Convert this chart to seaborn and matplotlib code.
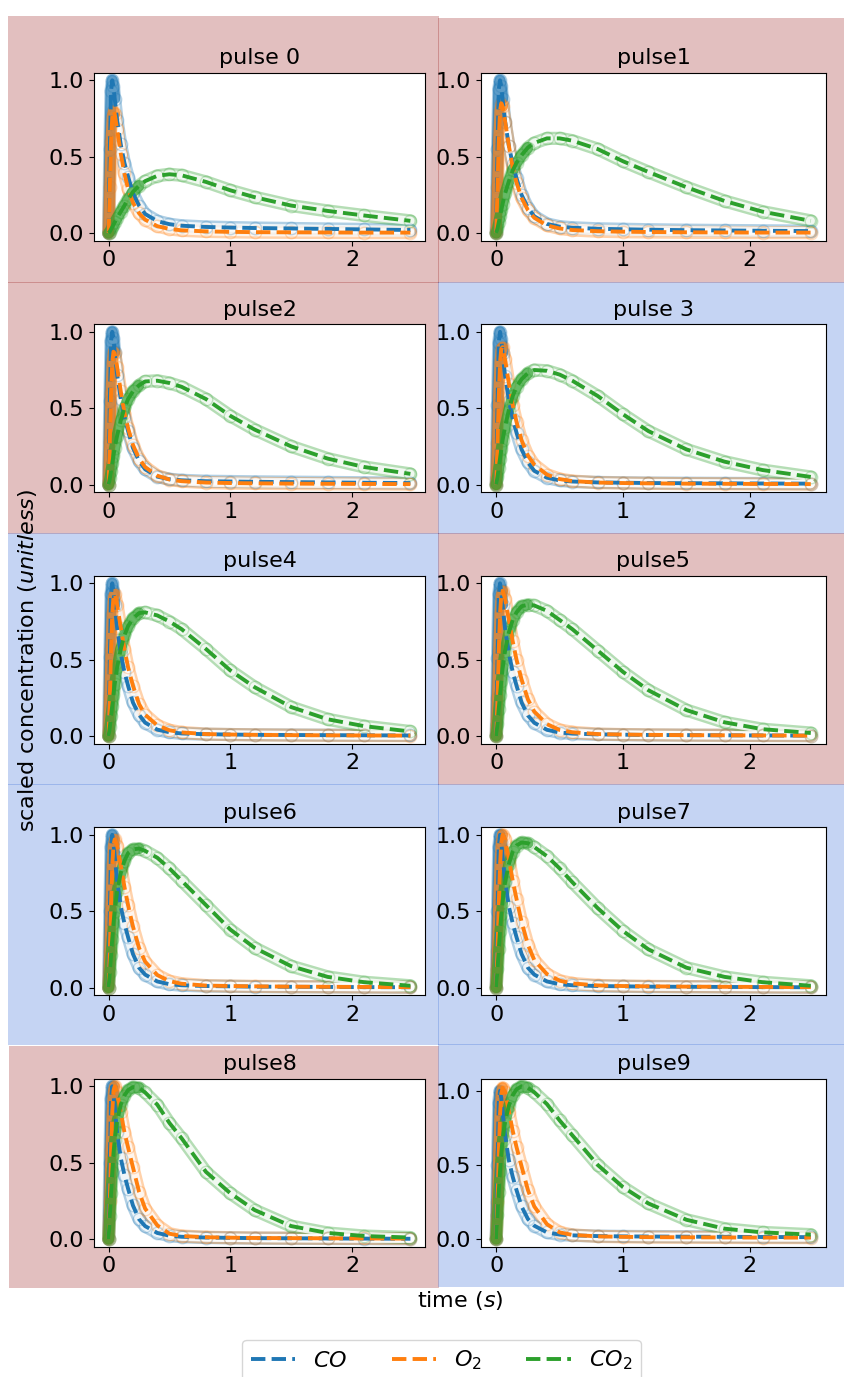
import matplotlib
matplotlib.use("Agg")
import matplotlib.pyplot as plt
from matplotlib.patches import Rectangle
from matplotlib.ticker import FormatStrFormatter
import seaborn as sns

# ---------------- data ----------------
time_s = [0.0, 0.01, 0.02, 0.03, 0.04, 0.05, 0.07, 0.1, 0.13, 0.16, 0.2, 0.25,
          0.3, 0.4, 0.5, 0.6, 0.8, 1.0, 1.2, 1.5, 1.8, 2.1, 2.48]

titles = ["pulse 0", "pulse1", "pulse2", "pulse 3", "pulse4",
          "pulse5", "pulse6", "pulse7", "pulse8", "pulse9"]
panel_bg = ["pink", "pink", "pink", "blue", "blue",
            "pink", "blue", "blue", "pink", "blue"]

co_p0 = [0.0, 0.55, 0.93, 1.00, 0.96, 0.88, 0.74, 0.58, 0.46, 0.37, 0.26, 0.18, 0.125, 0.078, 0.058, 0.048, 0.04, 0.036, 0.033, 0.03, 0.027, 0.024, 0.02]
co_p1 = [0.0, 0.55, 0.94, 1.00, 0.96, 0.88, 0.73, 0.57, 0.45, 0.36, 0.25, 0.165, 0.11, 0.06, 0.042, 0.035, 0.028, 0.025, 0.022, 0.019, 0.017, 0.015, 0.013]
co_p2 = [0.0, 0.55, 0.94, 1.00, 0.96, 0.87, 0.72, 0.56, 0.44, 0.35, 0.24, 0.155, 0.1, 0.052, 0.035, 0.028, 0.022, 0.02, 0.018, 0.016, 0.014, 0.012, 0.01]
co_p3 = [0.0, 0.52, 0.93, 1.00, 0.95, 0.86, 0.71, 0.55, 0.43, 0.34, 0.23, 0.145, 0.09, 0.045, 0.027, 0.02, 0.014, 0.012, 0.01, 0.009, 0.008, 0.007, 0.006]
co_p4 = [0.0, 0.52, 0.93, 1.00, 0.95, 0.86, 0.71, 0.54, 0.42, 0.33, 0.22, 0.14, 0.088, 0.042, 0.025, 0.017, 0.012, 0.01, 0.008, 0.007, 0.006, 0.005, 0.004]
co_p5 = [0.0, 0.51, 0.93, 1.00, 0.95, 0.86, 0.7, 0.54, 0.42, 0.33, 0.22, 0.135, 0.087, 0.041, 0.023, 0.016, 0.011, 0.009, 0.007, 0.006, 0.005, 0.004, 0.003]
co_p6 = [0.0, 0.5, 0.92, 1.00, 0.95, 0.86, 0.7, 0.53, 0.42, 0.33, 0.22, 0.13, 0.085, 0.04, 0.022, 0.015, 0.01, 0.008, 0.006, 0.005, 0.004, 0.003, 0.002]
co_p7 = [0.0, 0.5, 0.92, 1.00, 0.95, 0.86, 0.7, 0.53, 0.42, 0.33, 0.22, 0.13, 0.085, 0.04, 0.022, 0.015, 0.01, 0.008, 0.006, 0.005, 0.004, 0.003, 0.002]
co_p8 = [0.0, 0.5, 0.92, 1.00, 0.95, 0.86, 0.7, 0.53, 0.42, 0.33, 0.22, 0.13, 0.085, 0.04, 0.022, 0.015, 0.01, 0.008, 0.006, 0.005, 0.004, 0.003, 0.002]
co_p9 = [0.0, 0.5, 0.92, 1.00, 0.95, 0.86, 0.7, 0.53, 0.42, 0.33, 0.22, 0.135, 0.09, 0.045, 0.03, 0.025, 0.02, 0.018, 0.017, 0.016, 0.015, 0.014, 0.013]

o2_p0 = [0.0, 0.3, 0.6, 0.76, 0.80, 0.78, 0.68, 0.52, 0.39, 0.29, 0.2, 0.13, 0.088, 0.045, 0.027, 0.018, 0.011, 0.008, 0.006, 0.005, 0.004, 0.003, 0.003]
o2_p1 = [0.0, 0.3, 0.62, 0.8, 0.85, 0.83, 0.73, 0.57, 0.43, 0.33, 0.23, 0.15, 0.1, 0.05, 0.03, 0.02, 0.012, 0.009, 0.007, 0.005, 0.004, 0.003, 0.003]
o2_p2 = [0.0, 0.28, 0.6, 0.8, 0.87, 0.86, 0.77, 0.61, 0.47, 0.37, 0.26, 0.17, 0.115, 0.058, 0.033, 0.022, 0.013, 0.01, 0.008, 0.006, 0.005, 0.004, 0.003]
o2_p3 = [0.0, 0.27, 0.58, 0.8, 0.89, 0.9, 0.82, 0.66, 0.52, 0.41, 0.29, 0.19, 0.13, 0.065, 0.036, 0.023, 0.013, 0.01, 0.008, 0.006, 0.005, 0.004, 0.003]
o2_p4 = [0.0, 0.26, 0.57, 0.8, 0.91, 0.93, 0.86, 0.71, 0.57, 0.45, 0.33, 0.21, 0.14, 0.07, 0.038, 0.024, 0.013, 0.01, 0.008, 0.006, 0.005, 0.004, 0.003]
o2_p5 = [0.0, 0.25, 0.56, 0.8, 0.92, 0.95, 0.9, 0.76, 0.62, 0.5, 0.37, 0.24, 0.16, 0.078, 0.04, 0.025, 0.013, 0.01, 0.008, 0.006, 0.005, 0.004, 0.003]
o2_p6 = [0.0, 0.24, 0.55, 0.8, 0.93, 0.97, 0.93, 0.8, 0.66, 0.54, 0.4, 0.26, 0.17, 0.082, 0.042, 0.025, 0.013, 0.01, 0.008, 0.006, 0.005, 0.004, 0.003]
o2_p7 = [0.0, 0.24, 0.55, 0.8, 0.95, 1.0, 0.97, 0.84, 0.7, 0.58, 0.43, 0.28, 0.18, 0.088, 0.045, 0.027, 0.014, 0.01, 0.008, 0.006, 0.005, 0.004, 0.003]
o2_p8 = [0.0, 0.25, 0.58, 0.83, 0.97, 1.0, 0.96, 0.83, 0.7, 0.6, 0.47, 0.31, 0.2, 0.09, 0.035, 0.02, 0.012, 0.009, 0.007, 0.006, 0.005, 0.004, 0.003]
o2_p9 = [0.0, 0.25, 0.58, 0.84, 0.98, 1.02, 0.99, 0.86, 0.73, 0.62, 0.49, 0.33, 0.22, 0.1, 0.045, 0.028, 0.018, 0.015, 0.013, 0.012, 0.011, 0.01, 0.01]

co2_p0 = [0.0, 0.01, 0.025, 0.04, 0.055, 0.07, 0.1, 0.14, 0.18, 0.22, 0.27, 0.31, 0.34, 0.375, 0.385, 0.378, 0.335, 0.28, 0.235, 0.18, 0.145, 0.115, 0.08]
co2_p1 = [0.0, 0.03, 0.07, 0.11, 0.15, 0.19, 0.26, 0.34, 0.41, 0.46, 0.51, 0.56, 0.59, 0.62, 0.62, 0.605, 0.55, 0.47, 0.4, 0.3, 0.21, 0.14, 0.08]
co2_p2 = [0.0, 0.04, 0.09, 0.14, 0.19, 0.24, 0.32, 0.42, 0.5, 0.56, 0.61, 0.65, 0.675, 0.68, 0.665, 0.64, 0.56, 0.45, 0.36, 0.25, 0.17, 0.115, 0.07]
co2_p3 = [0.0, 0.05, 0.11, 0.17, 0.23, 0.29, 0.38, 0.49, 0.58, 0.64, 0.69, 0.73, 0.75, 0.745, 0.72, 0.68, 0.58, 0.46, 0.35, 0.23, 0.15, 0.095, 0.05]
co2_p4 = [0.0, 0.06, 0.13, 0.2, 0.27, 0.34, 0.45, 0.57, 0.66, 0.72, 0.77, 0.805, 0.81, 0.79, 0.75, 0.7, 0.57, 0.43, 0.32, 0.19, 0.11, 0.065, 0.03]
co2_p5 = [0.0, 0.08, 0.18, 0.27, 0.36, 0.44, 0.56, 0.68, 0.76, 0.81, 0.85, 0.86, 0.855, 0.82, 0.76, 0.7, 0.56, 0.42, 0.3, 0.17, 0.09, 0.045, 0.02]
co2_p6 = [0.0, 0.1, 0.21, 0.32, 0.42, 0.5, 0.63, 0.75, 0.83, 0.88, 0.905, 0.91, 0.895, 0.85, 0.78, 0.7, 0.54, 0.38, 0.26, 0.14, 0.07, 0.035, 0.012]
co2_p7 = [0.0, 0.12, 0.25, 0.37, 0.48, 0.56, 0.69, 0.81, 0.89, 0.93, 0.95, 0.945, 0.92, 0.86, 0.78, 0.69, 0.52, 0.37, 0.25, 0.13, 0.07, 0.035, 0.012]
co2_p8 = [0.0, 0.15, 0.3, 0.44, 0.56, 0.65, 0.77, 0.88, 0.94, 0.975, 0.995, 0.99, 0.96, 0.88, 0.76, 0.66, 0.44, 0.3, 0.19, 0.085, 0.04, 0.02, 0.01]
co2_p9 = [0.0, 0.16, 0.32, 0.46, 0.58, 0.67, 0.79, 0.9, 0.97, 1.01, 1.03, 1.02, 0.99, 0.91, 0.8, 0.7, 0.5, 0.35, 0.24, 0.13, 0.07, 0.045, 0.03]

co_all = [co_p0, co_p1, co_p2, co_p3, co_p4, co_p5, co_p6, co_p7, co_p8, co_p9]
o2_all = [o2_p0, o2_p1, o2_p2, o2_p3, o2_p4, o2_p5, o2_p6, o2_p7, o2_p8, o2_p9]
co2_all = [co2_p0, co2_p1, co2_p2, co2_p3, co2_p4, co2_p5, co2_p6, co2_p7, co2_p8, co2_p9]

species_labels = ["$CO$", "$O_2$", "$CO_2$"]
species_colors = ["#1f77b4", "#ff7f0e", "#2ca02c"]

# ---------------- layout ----------------
W, H = 844, 1377
plt.rcParams.update({"font.size": 16, "axes.titlesize": 16,
                     "xtick.labelsize": 16, "ytick.labelsize": 16})
fig = plt.figure(figsize=(W / 100, H / 100), dpi=100)

bg_colors = {"pink": (0.55, 0.0, 0.0, 0.25), "blue": (0.25, 0.45, 0.85, 0.30)}
# background boxes in pixels (x0, ytop, x1, ybottom)
bg_boxes = [(8, 16, 439, 283), (438, 18, 844, 283),
            (8, 282, 439, 534), (438, 282, 844, 534),
            (8, 533, 439, 785), (438, 533, 844, 785),
            (8, 784, 439, 1045), (438, 784, 844, 1045),
            (9, 1046, 439, 1288), (438, 1044, 844, 1287)]

col_x = [(94, 425), (481, 826)]
row_top = [72.7, 324.2, 575.7, 827.2, 1078.7]
ax_h = 168

for i in range(10):
    x0, yt, x1, yb = bg_boxes[i]
    fig.add_artist(Rectangle((x0 / W, 1 - yb / H), (x1 - x0) / W, (yb - yt) / H,
                             transform=fig.transFigure, facecolor=bg_colors[panel_bg[i]],
                             edgecolor="none", zorder=-5))

legend_handles = []
for i in range(10):
    r, c = divmod(i, 2)
    l, rgt = col_x[c]
    top = row_top[r]
    ax = fig.add_axes([l / W, 1 - (top + ax_h) / H, (rgt - l) / W, ax_h / H])
    series = [co_all[i], o2_all[i], co2_all[i]]
    n_solid = [6, 6, 12]
    # outer tube (open circle look)
    for vals, col in zip(series, species_colors):
        sns.lineplot(x=time_s, y=vals, ax=ax, color=col, lw=9.5, alpha=0.35,
                     solid_capstyle="round", errorbar=None, sort=False, zorder=1)
    for vals, col in zip(series, species_colors):
        sns.lineplot(x=time_s, y=vals, ax=ax, color="white", lw=6, alpha=0.8,
                     solid_capstyle="round", errorbar=None, sort=False, zorder=1.5)
    for vals, col in zip(series, species_colors):
        sns.lineplot(x=time_s, y=vals, ax=ax, color=col, lw=0, marker="o",
                     markersize=9, markerfacecolor="none", markeredgecolor=col,
                     markeredgewidth=1.0, alpha=0.25, errorbar=None, sort=False, zorder=2)
    for vals, col, ns in zip(series, species_colors, n_solid):
        sns.lineplot(x=time_s[:ns], y=vals[:ns], ax=ax, color=col, lw=8, alpha=0.7,
                     solid_capstyle="round", errorbar=None, sort=False, zorder=3)
    for vals, col, lab in zip(series, species_colors, species_labels):
        sns.lineplot(x=time_s, y=vals, ax=ax, color=col, lw=2.8, linestyle="--",
                     errorbar=None, sort=False, zorder=4)
        if i == 0:
            h = ax.lines[-1]
            h.set_label(lab)
            legend_handles.append(h)
    if ax.get_legend() is not None:
        ax.get_legend().remove()
    ax.set_xlim(-0.12, 2.60)
    ax.set_xticks([0, 1, 2])
    ax.set_yticks([0.0, 0.5, 1.0])
    ax.yaxis.set_major_formatter(FormatStrFormatter("%.1f"))
    ax.set_xlabel("")
    ax.set_ylabel("")
    ax.set_title(titles[i], fontsize=16)
    ax.set_facecolor("white")
    for s in ax.spines.values():
        s.set_color("black")

fig.text(28 / W, 1 - 660 / H, "scaled concentration ($unitless$)", rotation=90,
         ha="center", va="center", fontsize=16)
fig.text(460 / W, 1 - 1300 / H, "time ($s$)", ha="center", va="center", fontsize=16)

fig.legend(handles=legend_handles, labels=species_labels, loc="upper center",
           bbox_to_anchor=(0.523, 1 - 1340 / H), borderaxespad=0.0,
           ncol=3, fontsize=16, frameon=True)

fig.savefig("out.png", dpi=100)
